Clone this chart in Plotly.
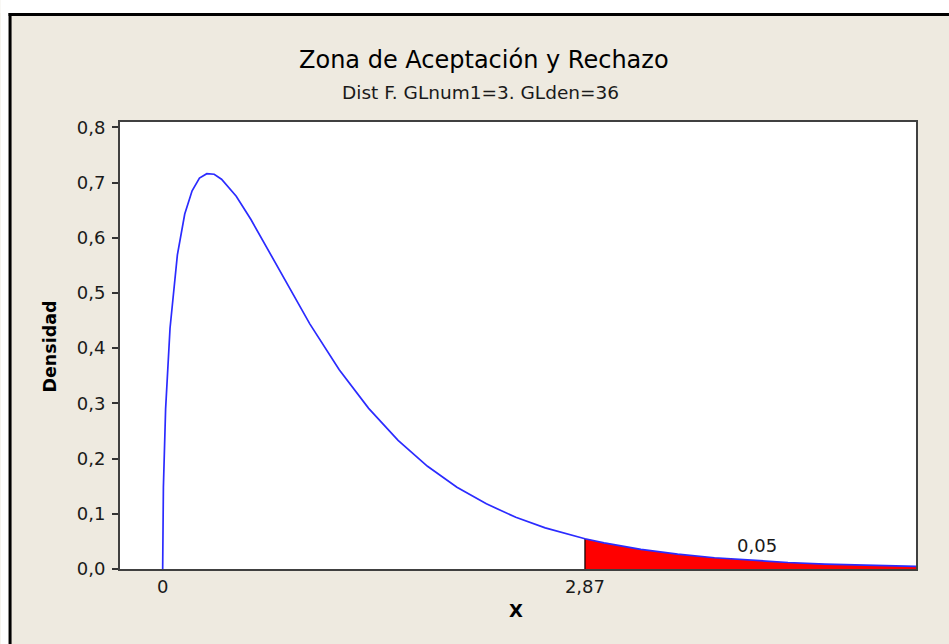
import plotly.graph_objects as go

# ---- data ----
x_vals = [0.0, 0.005, 0.02, 0.05, 0.1, 0.15, 0.2, 0.25, 0.3, 0.35, 0.4, 0.5, 0.6,
          0.7, 0.8, 0.9, 1.0, 1.2, 1.4, 1.6, 1.8, 2.0, 2.2, 2.4, 2.6, 2.87, 3.0,
          3.25, 3.5, 3.75, 4.0, 4.25, 4.5, 4.75, 5.0, 5.12]
density = [0.0, 0.148, 0.290, 0.436, 0.569, 0.643, 0.685, 0.708, 0.716, 0.715,
           0.706, 0.675, 0.633, 0.586, 0.538, 0.490, 0.444, 0.361, 0.291, 0.233,
           0.186, 0.148, 0.118, 0.0937, 0.0745, 0.0548, 0.0472, 0.0356, 0.0269,
           0.0204, 0.0155, 0.0118, 0.0090, 0.0069, 0.0053, 0.0047]
critical_value = 2.87
alpha_label = "0,05"
y_tick_vals = [0.0, 0.1, 0.2, 0.3, 0.4, 0.5, 0.6, 0.7, 0.8]
y_tick_text = ["0,0", "0,1", "0,2", "0,3", "0,4", "0,5", "0,6", "0,7", "0,8"]
x_tick_vals = [0.0, 2.87]
x_tick_text = ["0", "2,87"]
title_text = "Zona de Aceptación y Rechazo"
subtitle_text = "Dist F. GLnum1=3. GLden=36"

# ---- layout geometry (pixels) ----
W, H = 949, 644
L, R, T, B = 119.5, 916.0, 122.0, 569.0
pw, ph = R - L, B - T


def px(xp):
    return (xp - L) / pw


def py(yp):
    return (B - yp) / ph


FONT = "DejaVu Sans"
TXT = "#1a1a1a"

tail_x = [v for v in x_vals if v >= critical_value]
tail_y = [d for v, d in zip(x_vals, density) if v >= critical_value]
crit_y = tail_y[0]

fig = go.Figure()
fig.add_trace(go.Scatter(x=tail_x, y=tail_y, mode="lines", fill="tozeroy",
                         fillcolor="#ff0000", line=dict(width=0, color="#ff0000"),
                         hoverinfo="skip", showlegend=False))
fig.add_trace(go.Scatter(x=[critical_value, critical_value], y=[0, crit_y], mode="lines",
                         line=dict(color="#000000", width=1.2), showlegend=False))
fig.add_trace(go.Scatter(x=x_vals, y=density, mode="lines",
                         line=dict(color="#2b2bff", width=1.7), showlegend=False))

fig.update_layout(
    width=W, height=H,
    margin=dict(l=L, r=W - R, t=T, b=H - B, pad=0),
    paper_bgcolor="#EEEAE0", plot_bgcolor="#ffffff",
    font=dict(family=FONT, size=17, color=TXT),
    showlegend=False,
    xaxis=dict(range=[-0.29, 5.12], tickvals=x_tick_vals, ticktext=x_tick_text,
               showgrid=False, zeroline=False, showline=True, mirror=True,
               linecolor="#404040", linewidth=2, ticks="",
               tickfont=dict(family=FONT, size=18, color=TXT)),
    yaxis=dict(range=[0, 0.8096], tickvals=y_tick_vals, ticktext=y_tick_text,
               showgrid=False, zeroline=False, showline=True, mirror=True,
               linecolor="#404040", linewidth=2, ticks="outside", ticklen=6,
               tickwidth=1.5, tickcolor="#333333", ticklabelstandoff=3,
               tickfont=dict(family=FONT, size=18, color=TXT)),
    annotations=[
        dict(text=title_text, x=px(484), y=py(60), xref="paper", yref="paper",
             showarrow=False, xanchor="center", yanchor="middle",
             font=dict(family=FONT, size=24, color="#000000")),
        dict(text=subtitle_text, x=px(480), y=py(93), xref="paper", yref="paper",
             showarrow=False, xanchor="center", yanchor="middle",
             font=dict(family=FONT, size=18.5, color=TXT)),
        dict(text="<b>Densidad</b>", x=px(49), y=py(347), xref="paper", yref="paper",
             showarrow=False, xanchor="center", yanchor="middle", textangle=-90,
             font=dict(family=FONT, size=17.5, color="#000000")),
        dict(text="<b>X</b>", x=px(516), y=py(610), xref="paper", yref="paper",
             showarrow=False, xanchor="center", yanchor="middle",
             font=dict(family=FONT, size=18, color="#000000")),
        dict(text=alpha_label, x=4.04, y=0.0434, xref="x", yref="y",
             showarrow=False, xanchor="center", yanchor="middle",
             font=dict(family=FONT, size=18, color=TXT)),
    ],
    shapes=[
        # white strips outside the outer frame
        dict(type="rect", xref="paper", yref="paper", x0=px(0), x1=px(W), y0=py(13), y1=py(0),
             fillcolor="#ffffff", line=dict(width=0), layer="above"),
        dict(type="rect", xref="paper", yref="paper", x0=px(0), x1=px(8), y0=py(H), y1=py(0),
             fillcolor="#ffffff", line=dict(width=0), layer="above"),
        # black outer frame edges
        dict(type="line", xref="paper", yref="paper", x0=px(8), x1=px(W), y0=py(14.5), y1=py(14.5),
             line=dict(color="#000000", width=3), layer="above"),
        dict(type="line", xref="paper", yref="paper", x0=px(9.5), x1=px(9.5), y0=py(13), y1=py(H),
             line=dict(color="#000000", width=3), layer="above"),
    ],
)

fig.write_html("out.html")
